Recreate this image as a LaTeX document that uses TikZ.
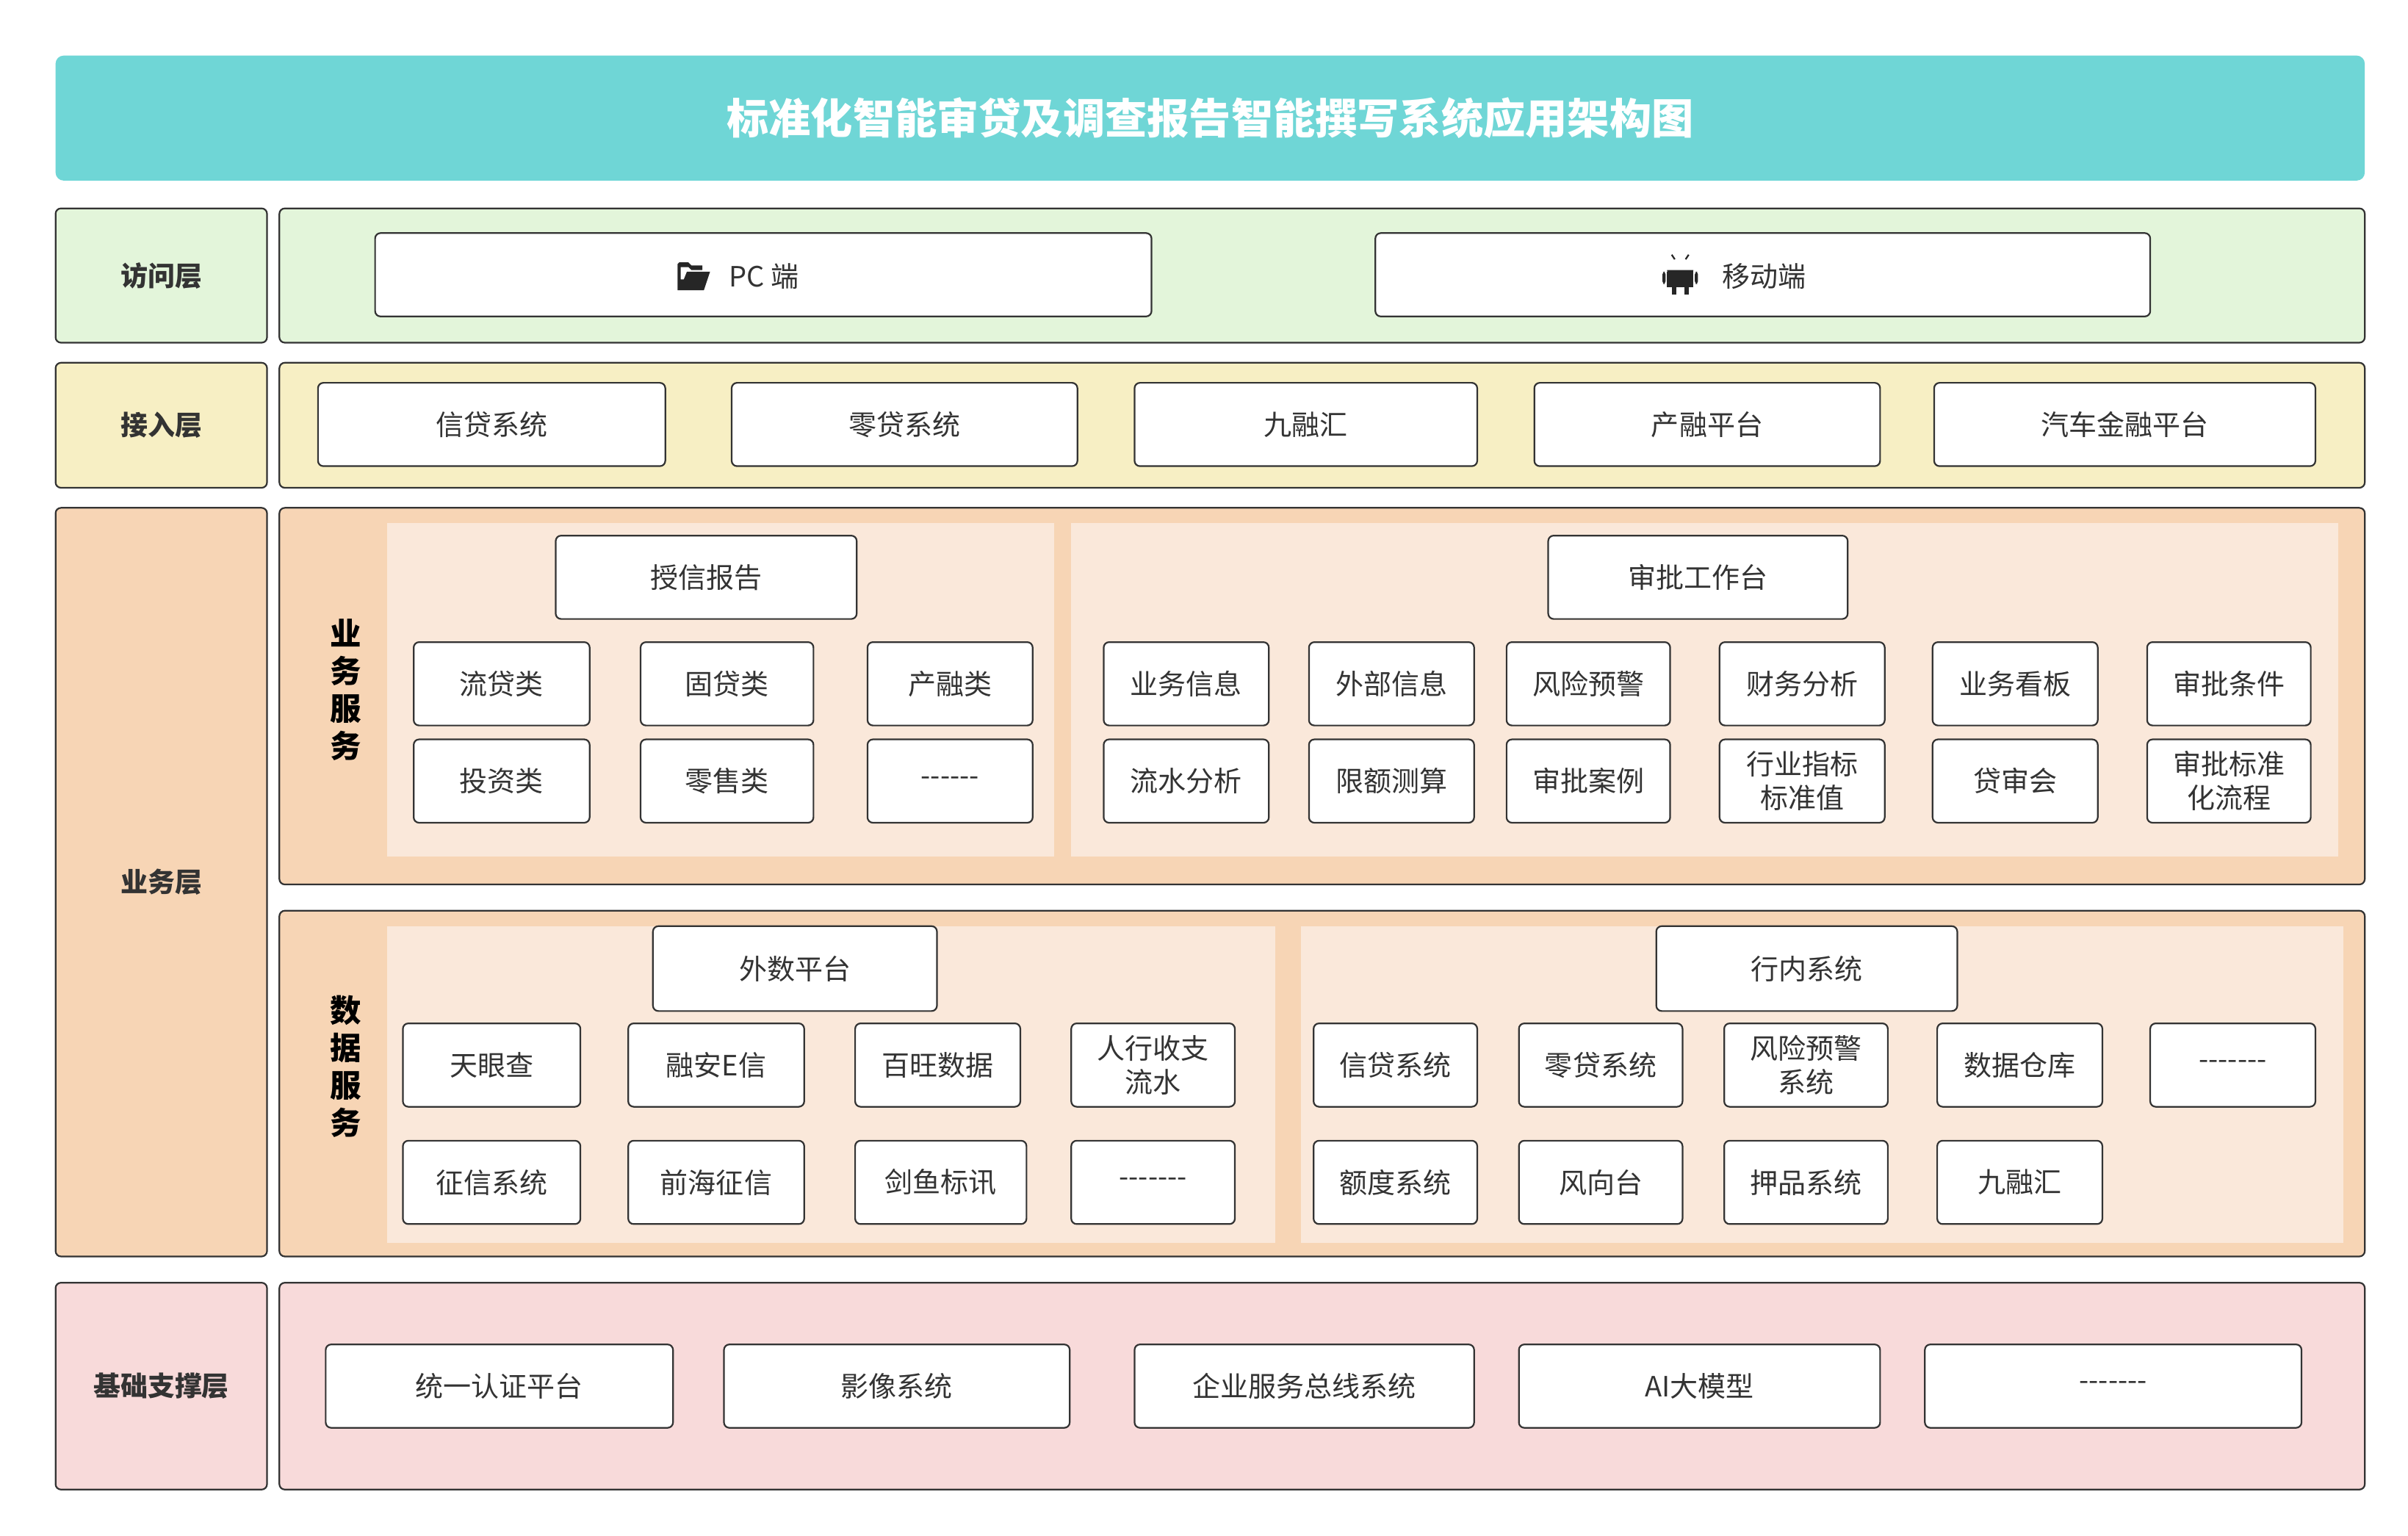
\documentclass[tikz,border=0pt]{standalone}
\usepackage{fontspec}
\setmainfont{Noto Sans CJK SC}
\definecolor{titlec}{HTML}{6FD6D6}
\definecolor{greenc}{HTML}{E3F5DA}
\definecolor{yellowc}{HTML}{F7EFC4}
\definecolor{orangec}{HTML}{F7D5B5}
\definecolor{lightc}{HTML}{FAE8DA}
\definecolor{pinkc}{HTML}{F8DADA}
\definecolor{linec}{HTML}{333333}
\newcommand\bx[7][box]{\node[#1, minimum width={(#5-#3)*0.02cm}, minimum height={(#6-#4)*0.02cm}] (#2) at ({(#3+#5)/2},{(#4+#6)/2}) {#7};}
\newcommand\dsix{-{}-{}-{}-{}-{}-}
\newcommand\dseven{-{}-{}-{}-{}-{}-{}-}
\tikzset{
 base/.style={draw=linec, line width=0.6pt, rounded corners=2pt, inner sep=0pt, align=center, font=\fontsize{10.3}{12.5}\selectfont, text=black!80},
 box/.style={base, fill=white},
 green/.style={base, fill=greenc},
 yellow/.style={base, fill=yellowc},
 orange/.style={base, fill=orangec},
 pink/.style={base, fill=pinkc},
 light/.style={inner sep=0pt, fill=lightc},
 lab/.style={font=\fontsize{10}{12}\selectfont\bfseries},
 txt/.style={inner sep=0pt, font=\fontsize{10.3}{12.5}\selectfont, text=black!80},
 icon/.style={fill=black!85},
 title/.style={inner sep=0pt, fill=titlec, rounded corners=3pt, text=white, font=\fontsize{15.5}{18}\selectfont\bfseries},
}
\begin{document}
\begin{tikzpicture}[x=0.02cm,y=-0.02cm]
\useasboundingbox[fill=white] (0,0) rectangle (1560,995);
\bx[title]{t}{36}{36}{1532}{117}{标准化智能审贷及调查报告智能撰写系统应用架构图}
% access
\bx[green,lab]{l1}{36}{135}{173}{222}{访问层}
\bx[green]{p1}{181}{135}{1532}{222}{}
\bx{pc}{243}{151}{746}{205}{}
\bx{mob}{891}{151}{1393}{205}{}
\node[txt] (pct) at (495,179) {PC 端};
\node[txt] (mobt) at (1143,179) {移动端};
% folder icon
\fill[icon] (439,171) -- (439,188) -- (456,188) -- (460,176) -- (445,176) -- (443,181) -- (441,181) -- (441,173) -- (446,173) -- (448,175) -- (455,175) -- (455,172) -- (448,172) -- (446,170) -- (440,170) -- cycle;
% android icon
\fill[icon] (1080,176) rectangle (1097,186);
\fill[icon] (1080,175) arc[start angle=180,end angle=0,x radius=8.5,y radius=7] -- cycle;
\fill[white] (1085,170) circle (1); \fill[white] (1092,170) circle (1);
\fill[icon, rounded corners=1pt] (1077,176) rectangle (1079,184);
\fill[icon, rounded corners=1pt] (1098,176) rectangle (1100,184);
\fill[icon] (1083,186) rectangle (1086,191);
\fill[icon] (1091,186) rectangle (1094,191);
\draw[black!85, line width=0.6pt] (1083,165) -- (1085,168) (1094,165) -- (1092,168);
% access 2
\bx[yellow,lab]{l2}{36}{235}{173}{316}{接入层}
\bx[yellow]{p2}{181}{235}{1532}{316}{}
\bx{a1}{206}{248}{431}{302}{信贷系统}
\bx{a2}{474}{248}{698}{302}{零贷系统}
\bx{a3}{735}{248}{957}{302}{九融汇}
\bx{a4}{994}{248}{1218}{302}{产融平台}
\bx{a5}{1253}{248}{1500}{302}{汽车金融平台}
% business
\bx[orange,lab]{l3}{36}{329}{173}{814}{业务层}
\bx[orange]{p3}{181}{329}{1532}{573}{}
\bx[orange]{p4}{181}{590}{1532}{814}{}
\bx[light]{i1}{251}{339}{683}{555}{}
\bx[light]{i2}{694}{339}{1515}{555}{}
\bx[light]{i3}{251}{600}{826}{805}{}
\bx[light]{i4}{843}{600}{1518}{805}{}
\node[lab, font=\fontsize{11.5}{13.8}\selectfont\bfseries, align=center] (v1) at (224,447) {业\\务\\服\\务};
\node[lab, font=\fontsize{11.5}{13.8}\selectfont\bfseries, align=center] (v2) at (224,691) {数\\据\\服\\务};
\bx{sx}{360}{347}{555}{401}{授信报告}
\bx{b1}{268}{416}{382}{470}{流贷类}
\bx{b2}{415}{416}{527}{470}{固贷类}
\bx{b3}{562}{416}{669}{470}{产融类}
\bx{b4}{268}{479}{382}{533}{投资类}
\bx{b5}{415}{479}{527}{533}{零售类}
\bx{b6}{562}{479}{669}{533}{\dsix}
\bx{sp}{1003}{347}{1197}{401}{审批工作台}
\bx{c1}{715}{416}{822}{470}{业务信息}
\bx{c2}{848}{416}{955}{470}{外部信息}
\bx{c3}{976}{416}{1082}{470}{风险预警}
\bx{c4}{1114}{416}{1221}{470}{财务分析}
\bx{c5}{1252}{416}{1359}{470}{业务看板}
\bx{c6}{1391}{416}{1497}{470}{审批条件}
\bx{d1}{715}{479}{822}{533}{流水分析}
\bx{d2}{848}{479}{955}{533}{限额测算}
\bx{d3}{976}{479}{1082}{533}{审批案例}
\bx{d4}{1114}{479}{1221}{533}{行业指标\\标准值}
\bx{d5}{1252}{479}{1359}{533}{贷审会}
\bx{d6}{1391}{479}{1497}{533}{审批标准\\化流程}
\bx{ws}{423}{600}{607}{655}{外数平台}
\bx{e1}{261}{663}{376}{717}{天眼查}
\bx{e2}{407}{663}{521}{717}{融安E信}
\bx{e3}{554}{663}{661}{717}{百旺数据}
\bx{e4}{694}{663}{800}{717}{人行收支\\流水}
\bx{f1}{261}{739}{376}{793}{征信系统}
\bx{f2}{407}{739}{521}{793}{前海征信}
\bx{f3}{554}{739}{665}{793}{剑鱼标讯}
\bx{f4}{694}{739}{800}{793}{\dseven}
\bx{hn}{1073}{600}{1268}{655}{行内系统}
\bx{g1}{851}{663}{957}{717}{信贷系统}
\bx{g2}{984}{663}{1090}{717}{零贷系统}
\bx{g3}{1117}{663}{1223}{717}{风险预警\\系统}
\bx{g4}{1255}{663}{1362}{717}{数据仓库}
\bx{g5}{1393}{663}{1500}{717}{\dseven}
\bx{h1}{851}{739}{957}{793}{额度系统}
\bx{h2}{984}{739}{1090}{793}{风向台}
\bx{h3}{1117}{739}{1223}{793}{押品系统}
\bx{h4}{1255}{739}{1362}{793}{九融汇}
% base
\bx[pink,lab]{l5}{36}{831}{173}{965}{基础支撑层}
\bx[pink]{p5}{181}{831}{1532}{965}{}
\bx{k1}{211}{871}{436}{925}{统一认证平台}
\bx{k2}{469}{871}{693}{925}{影像系统}
\bx{k3}{735}{871}{955}{925}{企业服务总线系统}
\bx{k4}{984}{871}{1218}{925}{AI大模型}
\bx{k5}{1247}{871}{1491}{925}{\dseven}
\end{tikzpicture}
\end{document}
